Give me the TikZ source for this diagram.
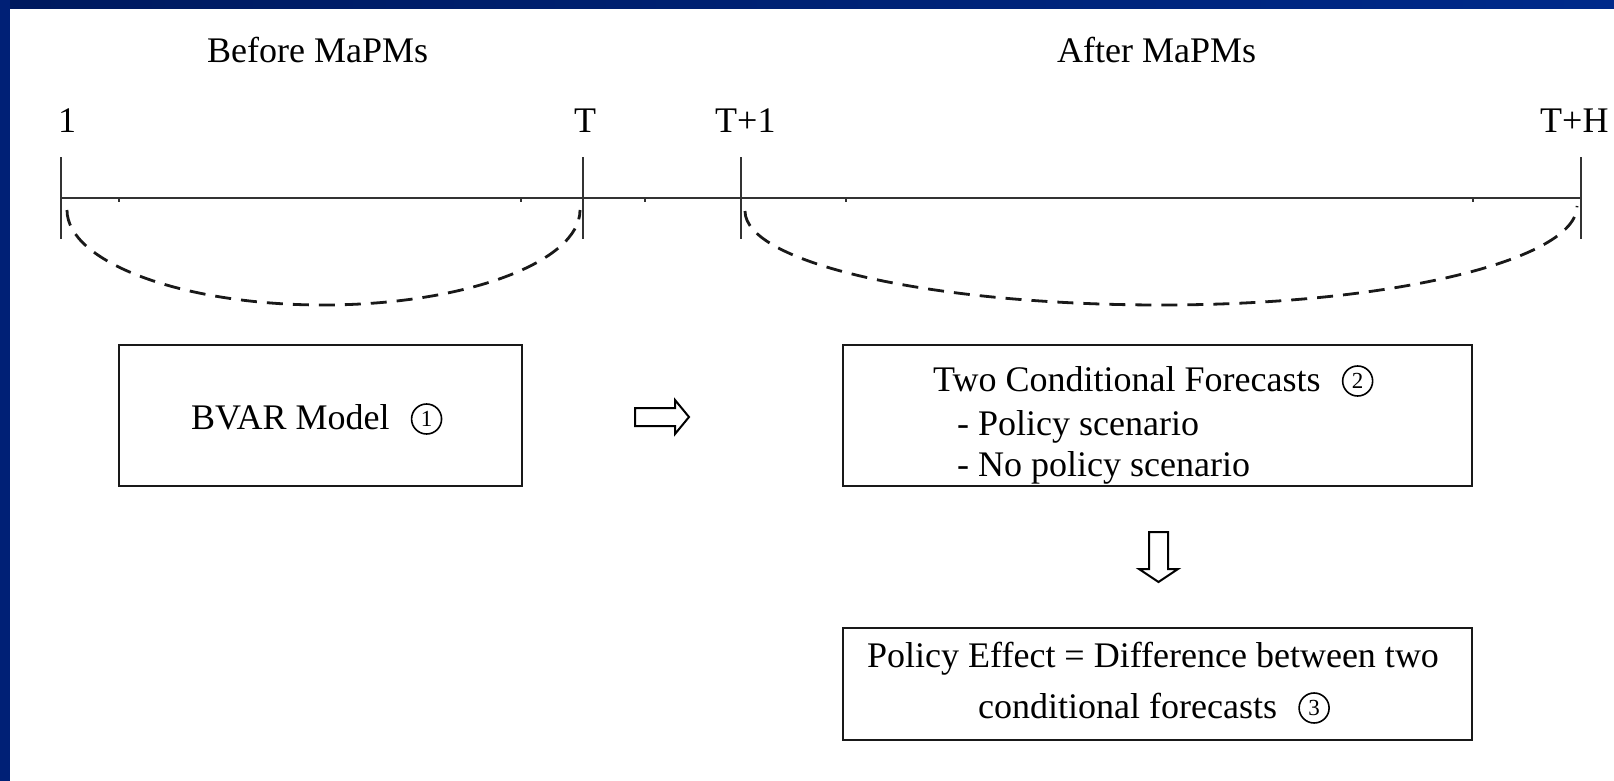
\documentclass[tikz,border=0pt]{standalone}
\usepackage{fontspec}
\setmainfont{Liberation Serif}
\definecolor{navyA}{RGB}{0,26,94}
\definecolor{navyB}{RGB}{0,42,138}
\definecolor{navyL}{RGB}{0,32,118}
\definecolor{inkgray}{RGB}{50,50,50}
\begin{document}
\begin{tikzpicture}[x=1pt,y=-1pt,
  txt/.style={inner sep=0pt,anchor=base west,font=\fontsize{36}{43}\selectfont},
  circnum/.style={circle,draw=black,line width=1.6pt,minimum size=30pt,inner sep=0pt,
    anchor=west,xshift=21pt,yshift=10pt,font=\fontsize{23}{23}\selectfont},
  boxnode/.style={draw=black!90,line width=2pt,inner sep=0pt},
  tl/.style={draw=inkgray,line width=2pt},
  arcdash/.style={draw=black!90,line width=2.8pt,dash pattern=on 16pt off 10pt},
  blockarrow/.style={draw=black,line width=2pt,fill=white,line join=miter}]
\useasboundingbox (0,0) rectangle (1614,781);
\fill[white] (0,0) rectangle (1614,781);
\shade[left color=navyA,right color=navyB] (0,0) rectangle (1614,9);
\fill[navyL] (0,0) rectangle (10,781);

% headings
\node[txt] (before) at (207,63) {Before MaPMs};
\node[txt] (after) at (1057,63) {After MaPMs};
\node[txt] (l1) at (58,132) {1};
\node[txt] (lT) at (574,132) {T};
\node[txt] (lT1) at (715,132) {T+1};
\node[txt] (lTH) at (1540,132) {T+H};

% timeline
\coordinate (tA) at (61,198);
\coordinate (tB) at (1581,198);
\draw[tl] (tA) -- (tB);
\foreach \x in {61,583,741,1581} \draw[tl] (\x,157) -- (\x,239);
\foreach \x in {119,521,645,846,1473} \draw[inkgray,line width=1.5pt] (\x,198) -- (\x,202);

% dashed arcs
\draw[arcdash] (67,210) .. controls (67,262) and (182,305) .. (323,305)
  .. controls (465,305) and (580,262) .. (580,210);
\draw[arcdash] (745,211) .. controls (745,263) and (931,305) .. (1161,305)
  .. controls (1391,305) and (1577,260) .. (1577,206);

% boxes
\node[boxnode,minimum width=403pt,minimum height=141pt] (bvar) at (320.5,415.5) {};
\node[boxnode,minimum width=629pt,minimum height=141pt] (cond) at (1157.5,415.5) {};
\node[boxnode,minimum width=629pt,minimum height=112pt] (eff) at (1157.5,684) {};

\node[txt] (bvart) at (191,429) {BVAR Model};
\node[circnum] (n1) at (bvart.base east) {1};
\node[txt] (c1) at (933,391) {Two Conditional Forecasts};
\node[circnum] (n2) at (c1.base east) {2};
\node[txt] (c2) at (957,435) {- Policy scenario};
\node[txt] (c3) at (957,476) {- No policy scenario};
\node[txt] (e1) at (867,667) {Policy Effect = Difference between two};
\node[txt] (e2) at (978,718) {conditional forecasts};
\node[circnum] (n3) at (e2.base east) {3};

% block arrows
\draw[blockarrow] (635,408) -- (675,408) -- (675,400) -- (689,417) -- (675,434) -- (675,426) -- (635,426) -- cycle;
\draw[blockarrow] (1149,532) -- (1168,532) -- (1168,569) -- (1178,569) -- (1158.5,582) -- (1139,569) -- (1149,569) -- cycle;
\end{tikzpicture}
\end{document}
